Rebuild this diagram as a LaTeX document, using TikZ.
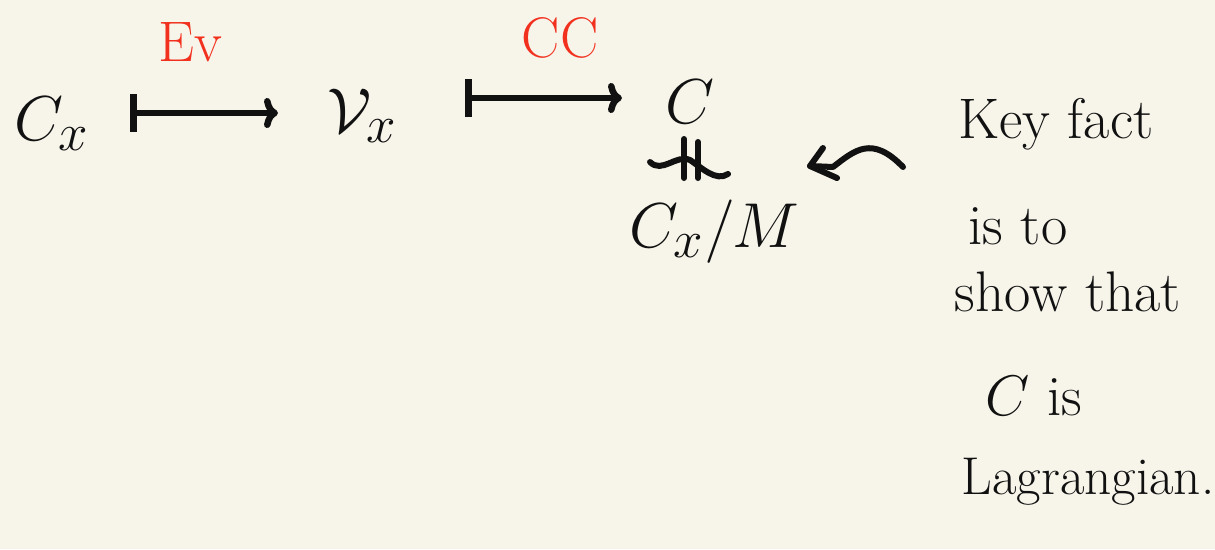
\documentclass[tikz,border=0pt]{standalone}
\usetikzlibrary{arrows.meta}
\definecolor{paper}{HTML}{F7F5EA}
\definecolor{ink}{HTML}{111111}
\definecolor{redink}{HTML}{F2301E}
\begin{document}
\begin{tikzpicture}[x=1pt,y=-1pt,
  every node/.style={inner sep=0pt, text=ink},
  big/.style={font=\Huge, scale=2.55},
  note/.style={font=\Huge, scale=2.3},
  lab/.style={font=\Huge, scale=2.3, text=redink},
  mapsto/.style={line width=6.5pt, draw=ink, line cap=round,
    {Bar[width=38pt,line width=6.5pt]}-{To[length=14pt,width=30pt,line width=6.5pt]}},
  pointer/.style={line width=6pt, draw=ink, line cap=round, line join=round}
]
\useasboundingbox[fill=paper] (0,0) rectangle (1215,549);

% objects of the diagram
\node[big] (cx) at (52,124) {$C_x$};
\node[big] (vx) at (362,116) {$\mathcal{V}_x$};
\node[big] (c)  at (690,102) {$C$};
\node[minimum width=70pt, minimum height=40pt] (iso) at (690,160) {};
\node[big] (cxm) at (714,232) {$C_x/M$};

% maps
\coordinate (a1s) at (130,113);
\coordinate (a1e) at (278,113);
\coordinate (a2s) at (465,98);
\coordinate (a2e) at (622,98);
\draw[mapsto] (a1s) -- (a1e);
\draw[mapsto] (a2s) -- (a2e);
\node[lab] (ev) at (190,42) {Ev};
\node[lab] (cc) at (560,38) {CC};

% vertical isomorphism sign
\draw[pointer] ([xshift=-40pt,yshift=-2pt]iso.center)
  .. controls ([xshift=-28pt,yshift=-14pt]iso.center) and ([xshift=-14pt,yshift=6pt]iso.center) .. (iso.center)
  .. controls ([xshift=12pt,yshift=-8pt]iso.center) and ([xshift=26pt,yshift=-22pt]iso.center) .. ([xshift=38pt,yshift=-14pt]iso.center);
\draw[pointer] ([xshift=-6pt,yshift=-18pt]iso.center) -- ([xshift=-6pt,yshift=21pt]iso.center);
\draw[pointer] ([xshift=8pt,yshift=-18pt]iso.center) -- ([xshift=8pt,yshift=18pt]iso.center);

% the remark
\node[note] (k1) at (1056,124) {Key fact};
\node[note] (k2) at (1018,226) {is to};
\node[note] (k3) at (1068,292) {show that};
\node[note] (k4) at (1034,396) {$C$ is};
\node[note, scale=0.93] (k5) at (1088,482) {Lagrangian.};

% wavy pointer from the remark to the isomorphism
\coordinate (wt) at (903,167);
\coordinate (wh) at (810,166);
\draw[pointer] (wh) -- (833,167) .. controls (855,150) and (872,135) .. (wt);
\draw[pointer] (823,148) -- (wh) -- (837,178);
\end{tikzpicture}
\end{document}
